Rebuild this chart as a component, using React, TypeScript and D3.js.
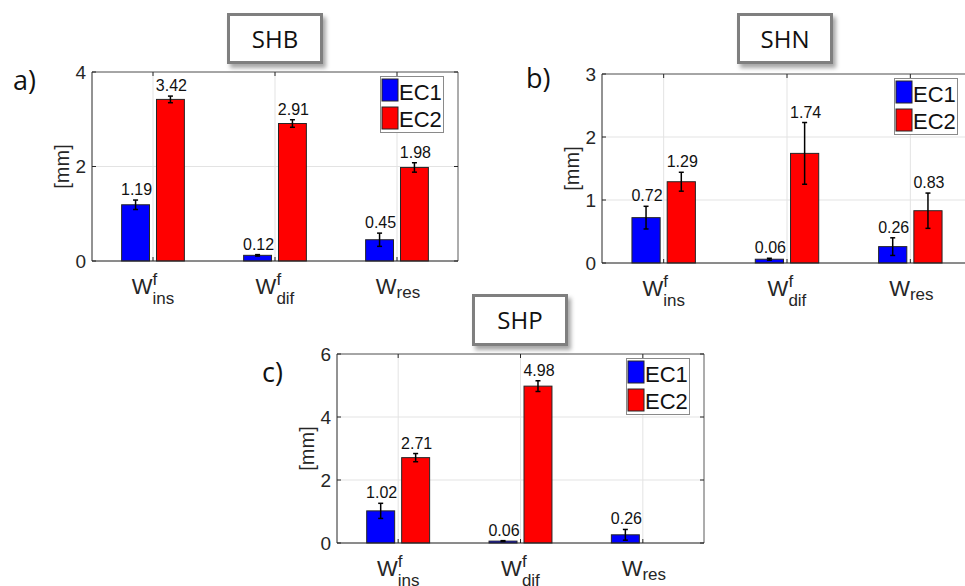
import React from "react";
import * as d3 from "d3";

const width = 965;
const height = 586;

// categories: W^f_ins, W^f_dif, W_res
const catBase = ["W", "W", "W"];
const catSup = ["f", "f", ""];
const catSub = ["ins", "dif", "res"];

const seriesNames = ["EC1", "EC2"];
const seriesColors = ["#0000ff", "#ff0000"];

// SHB
const shbEC1 = [1.19, 0.12, 0.45];
const shbEC2 = [3.42, 2.91, 1.98];
const shbErr1 = [0.1, 0.015, 0.14];
const shbErr2 = [0.07, 0.08, 0.1];
const shbTicks = [0, 2, 4];

// SHN
const shnEC1 = [0.72, 0.06, 0.26];
const shnEC2 = [1.29, 1.74, 0.83];
const shnErr1 = [0.18, 0.015, 0.14];
const shnErr2 = [0.15, 0.49, 0.28];
const shnTicks = [0, 1, 2, 3];

// SHP (no EC2 value for W_res)
const shpEC1 = [1.02, 0.06, 0.26];
const shpEC2 = [2.71, 4.98, null];
const shpErr1 = [0.24, 0.015, 0.17];
const shpErr2 = [0.13, 0.17, null];
const shpTicks = [0, 2, 4, 6];

const axisFont = "'Liberation Sans', Arial, Helvetica, sans-serif";
const titleFont = "'Open Sans', 'Noto Sans', sans-serif";

const groupOffset = 0.1429;
const barWidth = 0.2286;

function Panel({ title, tag, ec1, ec2, err1, err2, ticks, plot, tbox, tagPos }) {
  const x = d3.scaleLinear().domain([0.5, 3.5]).range([plot.left, plot.right]);
  const y = d3
    .scaleLinear()
    .domain([0, ticks[ticks.length - 1]])
    .range([plot.bottom, plot.top]);
  const bw = x(barWidth) - x(0);
  const cats = catSub.map((d, i) => i + 1);
  const series = [ec1, ec2];
  const errs = [err1, err2];

  const bars = [];
  series.forEach((vals, s) => {
    vals.forEach((v, i) => {
      if (v == null) return;
      const cx = x(cats[i] + (s === 0 ? -groupOffset : groupOffset));
      const e = errs[s][i];
      bars.push({ s, i, v, cx, e, key: `${s}-${i}` });
    });
  });

  const legX = plot.right - 15 - 63;
  const legY = plot.top + 4;
  const tickLen = 4;

  return (
    <g>
      {/* title box */}
      <rect
        x={tbox.x + 1.5}
        y={tbox.y + 1.5}
        width={tbox.w - 3}
        height={tbox.h - 3}
        fill="#fff"
        stroke="#7f7f7f"
        strokeWidth={3}
        filter="url(#shadow)"
      />
      <text
        x={tbox.x + tbox.w / 2}
        y={tbox.y + 35}
        textAnchor="middle"
        fontFamily={titleFont}
        fontSize={24}
        fill="#111"
      >
        {title}
      </text>
      <text x={tagPos.x} y={tagPos.y} fontFamily={titleFont} fontSize={27} fill="#111">
        {tag}
      </text>

      {/* grid */}
      {ticks.map((t) => (
        <line key={"gy" + t} x1={plot.left} x2={plot.right} y1={y(t)} y2={y(t)} stroke="#e3e3e3" />
      ))}
      {cats.map((c) => (
        <line key={"gx" + c} x1={x(c)} x2={x(c)} y1={plot.top} y2={plot.bottom} stroke="#e3e3e3" />
      ))}

      {/* box + ticks */}
      <line x1={plot.left} x2={plot.right} y1={plot.top} y2={plot.top} stroke="#5a5a5a" />
      <line x1={plot.right} x2={plot.right} y1={plot.top} y2={plot.bottom} stroke="#5a5a5a" />
      {ticks.map((t) => (
        <g key={"t" + t}>
          <line x1={plot.left} x2={plot.left + tickLen} y1={y(t)} y2={y(t)} stroke="#262626" />
          <line x1={plot.right} x2={plot.right - tickLen} y1={y(t)} y2={y(t)} stroke="#262626" />
          <text
            x={plot.left - 6}
            y={y(t)}
            dy="0.35em"
            textAnchor="end"
            fontFamily={axisFont}
            fontSize={19}
            fill="#262626"
          >
            {t}
          </text>
        </g>
      ))}
      {cats.map((c) => (
        <g key={"xt" + c}>
          <line x1={x(c)} x2={x(c)} y1={plot.bottom} y2={plot.bottom - tickLen} stroke="#262626" />
          <line x1={x(c)} x2={x(c)} y1={plot.top} y2={plot.top + tickLen} stroke="#262626" />
        </g>
      ))}

      {/* bars */}
      {bars.map((b) => (
        <rect
          key={b.key}
          x={b.cx - bw / 2}
          y={y(b.v)}
          width={bw}
          height={y(0) - y(b.v)}
          fill={seriesColors[b.s]}
          stroke="#262626"
          strokeWidth={1}
        />
      ))}
      {/* error bars */}
      {bars.map((b) => (
        <g key={"e" + b.key} stroke="#000" strokeWidth={1.5}>
          <line x1={b.cx} x2={b.cx} y1={y(b.v + b.e)} y2={y(b.v - b.e)} />
          <line x1={b.cx - 2.5} x2={b.cx + 2.5} y1={y(b.v + b.e)} y2={y(b.v + b.e)} />
          <line x1={b.cx - 2.5} x2={b.cx + 2.5} y1={y(b.v - b.e)} y2={y(b.v - b.e)} />
        </g>
      ))}
      {bars.map((b) => (
        <text
          key={"l" + b.key}
          x={b.cx + 1}
          y={y(b.v + b.e) - 5}
          textAnchor="middle"
          fontFamily={axisFont}
          fontSize={16}
          fill="#111"
        >
          {b.v.toFixed(2)}
        </text>
      ))}

      {/* axis lines */}
      <line x1={plot.left} x2={plot.right} y1={plot.bottom} y2={plot.bottom} stroke="#262626" />
      <line x1={plot.left} x2={plot.left} y1={plot.top} y2={plot.bottom} stroke="#262626" />

      {/* y label */}
      <text
        transform={`translate(${plot.left - 30},${(plot.top + plot.bottom) / 2}) rotate(-90)`}
        dy="0.35em"
        textAnchor="middle"
        fontFamily={axisFont}
        fontSize={20}
        fill="#262626"
      >
        [mm]
      </text>

      {/* x labels */}
      {cats.map((c, i) => {
        const wW = 20.8;
        const supW = catSup[i] ? 4.7 : 0;
        const subW = catSub[i].length * 7.2 + (catSub[i] === "dif" ? -3.6 : 0);
        const total = wW + Math.max(supW, subW);
        const x0 = x(c) - total / 2;
        const base = plot.bottom + 33;
        const subBase = catSup[i] ? base + 10 : base + 4;
        return (
          <g key={"xl" + c} fontFamily={axisFont} fill="#262626">
            <text x={x0} y={base} fontSize={22}>
              {catBase[i]}
            </text>
            {catSup[i] && (
              <text x={x0 + wW} y={base - 9} fontSize={17}>
                {catSup[i]}
              </text>
            )}
            <text x={x0 + wW} y={subBase} fontSize={17}>
              {catSub[i]}
            </text>
          </g>
        );
      })}

      {/* legend */}
      <rect x={legX + 0.5} y={legY + 0.5} width={63} height={56} fill="#fff" stroke="#8a8a8a" />
      {seriesNames.map((n, s) => (
        <g key={n}>
          <rect
            x={legX + 2}
            y={legY + 3 + s * 28}
            width={16}
            height={22}
            fill={seriesColors[s]}
            stroke="#262626"
          />
          <text x={legX + 19} y={legY + 23.5 + s * 27} fontFamily={axisFont} fontSize={22} fill="#111">
            {n}
          </text>
        </g>
      ))}
    </g>
  );
}

export default function App() {
  return (
    <svg
      width={width}
      height={height}
      style={{ position: "absolute", left: 0, top: 0, background: "#fff" }}
    >
      <defs>
        <filter id="shadow" x="-20%" y="-20%" width="150%" height="170%">
          <feDropShadow dx="3" dy="4" stdDeviation="2" floodColor="#000" floodOpacity="0.35" />
        </filter>
      </defs>
      <rect width={width} height={height} fill="#fff" />
      <Panel
        title="SHB"
        tag="a)"
        ec1={shbEC1}
        ec2={shbEC2}
        err1={shbErr1}
        err2={shbErr2}
        ticks={shbTicks}
        plot={{ left: 92, right: 458, top: 72, bottom: 261 }}
        tbox={{ x: 227, y: 13, w: 96, h: 51 }}
        tagPos={{ x: 13, y: 90 }}
      />
      <Panel
        title="SHN"
        tag="b)"
        ec1={shnEC1}
        ec2={shnEC2}
        err1={shnErr1}
        err2={shnErr2}
        ticks={shnTicks}
        plot={{ left: 602, right: 972, top: 74, bottom: 263 }}
        tbox={{ x: 737, y: 13, w: 96, h: 51 }}
        tagPos={{ x: 526, y: 88 }}
      />
      <Panel
        title="SHP"
        tag="c)"
        ec1={shpEC1}
        ec2={shpEC2}
        err1={shpErr1}
        err2={shpErr2}
        ticks={shpTicks}
        plot={{ left: 337, right: 704, top: 354, bottom: 543 }}
        tbox={{ x: 472, y: 294, w: 96, h: 52 }}
        tagPos={{ x: 262, y: 382 }}
      />
    </svg>
  );
}
